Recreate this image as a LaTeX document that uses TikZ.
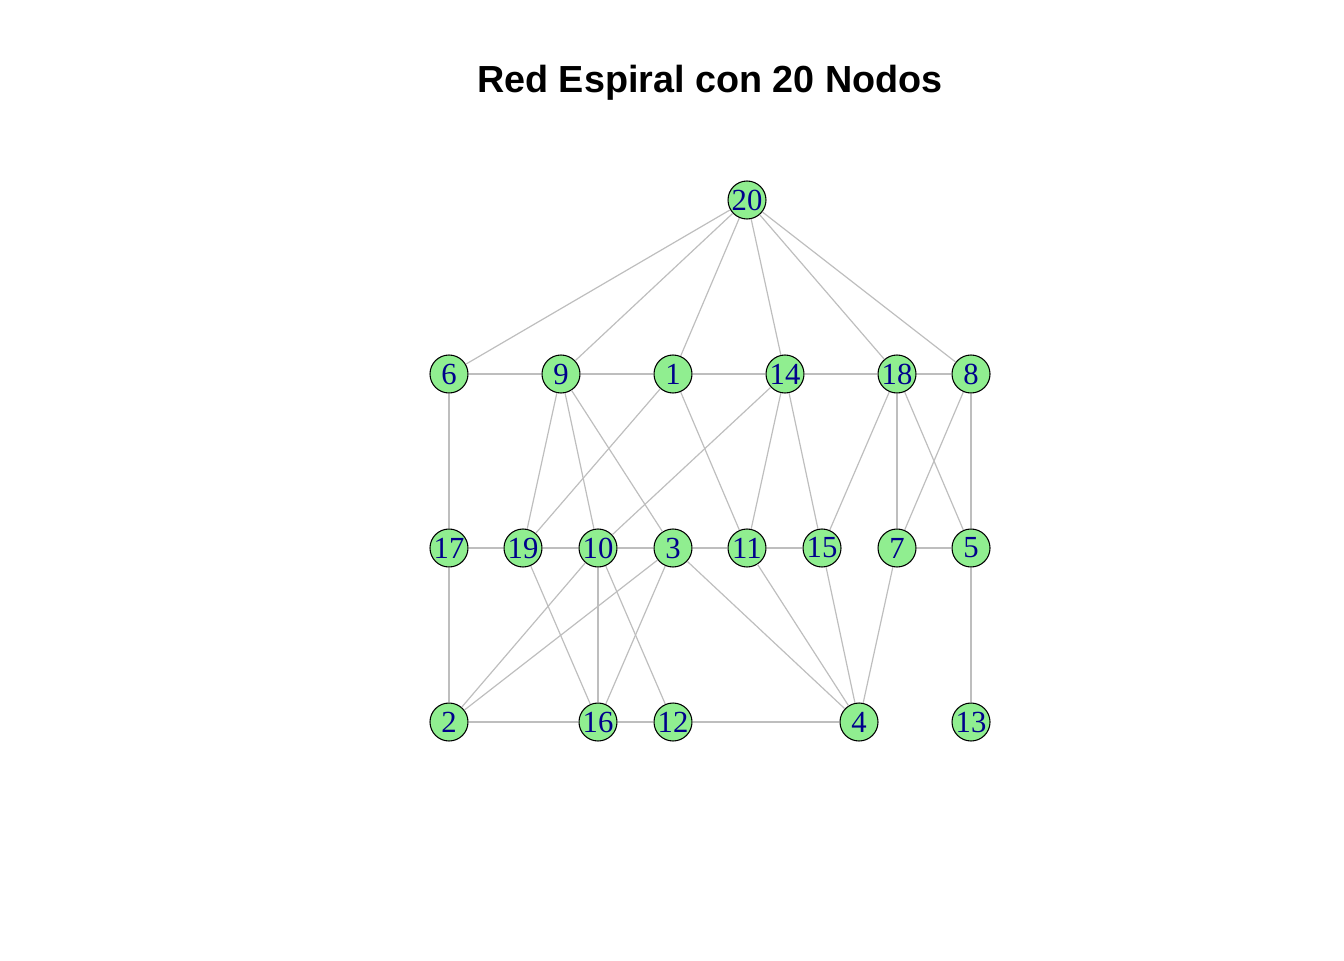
\documentclass[tikz,border=0pt]{standalone}
\usepackage{fontspec}
\setmainfont{Liberation Serif}
\newfontfamily\titlefont{Liberation Sans}
\definecolor{nodegreen}{RGB}{144,238,144}
\definecolor{labelblue}{RGB}{0,0,139}
\definecolor{edgegray}{RGB}{190,190,190}
\begin{document}
\begin{tikzpicture}[x=0.75pt,y=-0.75pt,
  vert/.style={circle,draw=black,line width=0.8pt,fill=nodegreen,minimum size=28.5pt,inner sep=0pt,
    font=\fontsize{23}{23}\selectfont,text=labelblue},
  edge/.style={draw=edgegray,line width=0.9pt}]
\useasboundingbox (0,0) rectangle (1344,960);
\node[font=\titlefont\bfseries\fontsize{28.3}{30}\selectfont] (title) at (710,83) {Red Espiral con 20 Nodos};
\node[vert] (n20) at (747,200) {20};
\node[vert] (n6) at (449,374) {6};
\node[vert] (n9) at (561,374) {9};
\node[vert] (n1) at (673,374) {1};
\node[vert] (n14) at (785,374) {14};
\node[vert] (n18) at (897,374) {18};
\node[vert] (n8) at (971,374) {8};
\node[vert] (n17) at (449,548) {17};
\node[vert] (n19) at (523,548) {19};
\node[vert] (n10) at (598,548) {10};
\node[vert] (n3) at (673,548) {3};
\node[vert] (n11) at (747,548) {11};
\node[vert] (n15) at (822,548) {15};
\node[vert] (n7) at (897,548) {7};
\node[vert] (n5) at (971,548) {5};
\node[vert] (n2) at (449,722) {2};
\node[vert] (n16) at (598,722) {16};
\node[vert] (n12) at (673,722) {12};
\node[vert] (n4) at (859,722) {4};
\node[vert] (n13) at (971,722) {13};
\foreach \a/\b in {20/6,20/9,20/1,20/14,20/18,20/8,
  6/9,9/1,1/14,14/18,18/8,
  6/17,17/2,9/19,9/10,9/3,1/19,1/11,14/10,14/11,14/15,18/15,18/7,18/5,8/7,8/5,
  17/19,19/10,10/3,3/11,11/15,7/5,
  19/16,10/2,10/16,10/12,3/2,3/16,3/4,11/4,15/4,7/4,5/13,
  2/16,16/12,12/4}
  \path[edge] (n\a) -- (n\b);
\end{tikzpicture}
\end{document}
